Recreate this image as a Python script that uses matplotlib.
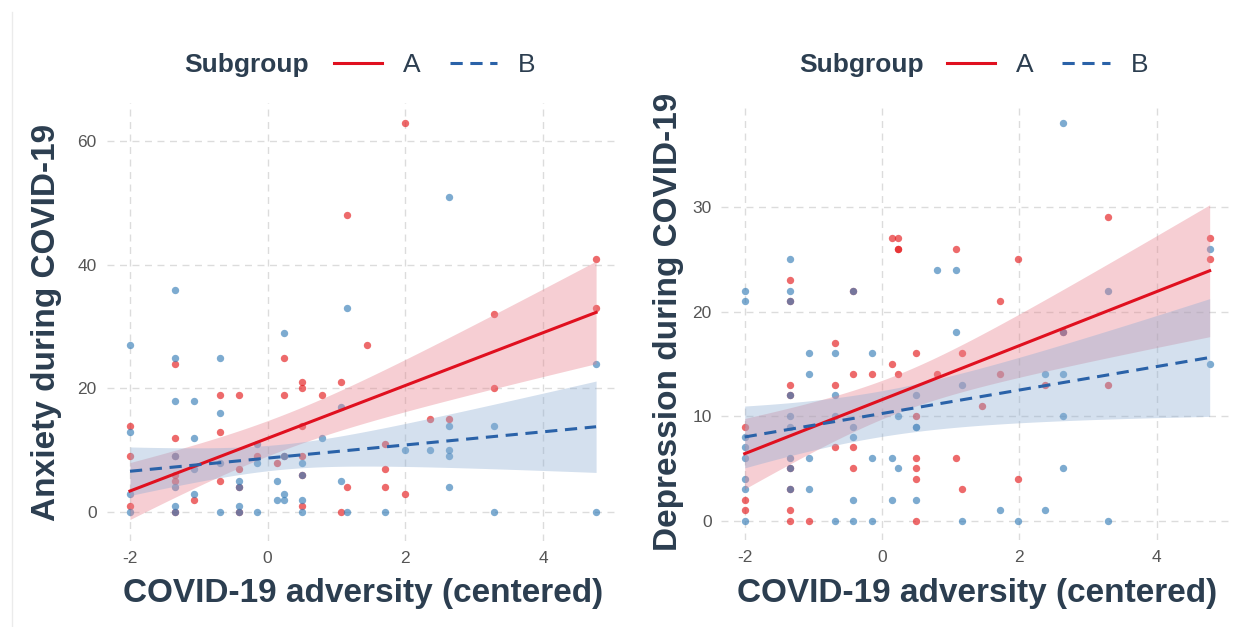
import numpy as np
import matplotlib
matplotlib.use("Agg")
import matplotlib.pyplot as plt
from matplotlib.lines import Line2D

# ---------------- data ----------------
# Left panel: Anxiety during COVID-19
anx_A_x = [-2, -2, -2,
           -1.34, -1.34, -1.34, -1.34, -1.34, -1.34,
           -1.07,
           -0.69, -0.69, -0.69,
           -0.42, -0.42, -0.42, -0.42,
           -0.15,
           0.14,
           0.23, 0.23, 0.23,
           0.50, 0.50, 0.50, 0.50, 0.50, 0.50,
           0.79,
           1.06, 1.06,
           1.15, 1.15,
           1.44,
           1.71, 1.71, 1.71,
           1.99, 1.99,
           2.36,
           2.64,
           3.28, 3.28,
           4.77, 4.77]
anx_A_y = [14, 9, 1,
           24, 12, 9, 6, 5, 0,
           2,
           19, 13, 5,
           19, 7, 4, 0,
           9,
           8,
           25, 19, 9,
           21, 20, 14, 9, 6, 1,
           19,
           21, 0,
           48, 4,
           27,
           11, 7, 4,
           63, 3,
           15,
           15,
           32, 20,
           41, 33]
anx_B_x = [-2, -2, -2, -2,
           -1.34, -1.34, -1.34, -1.34, -1.34, -1.34, -1.34,
           -1.07, -1.07, -1.07, -1.07,
           -0.69, -0.69, -0.69, -0.69,
           -0.42, -0.42, -0.42, -0.42,
           -0.15, -0.15, -0.15,
           0.14, 0.14,
           0.23, 0.23, 0.23, 0.23,
           0.50, 0.50, 0.50, 0.50,
           0.79,
           1.06, 1.06,
           1.15, 1.15,
           1.71,
           1.99,
           2.36,
           2.64, 2.64, 2.64, 2.64, 2.64,
           3.28, 3.28,
           4.77, 4.77]
anx_B_y = [27, 13, 3, 0,
           36, 25, 18, 9, 4, 1, 0,
           18, 12, 7, 3,
           25, 16, 8, 0,
           5, 4, 1, 0,
           11, 8, 0,
           5, 2,
           29, 9, 3, 2,
           8, 6, 2, 0,
           12,
           17, 5,
           33, 0,
           0,
           10,
           10,
           51, 14, 10, 9, 4,
           14, 0,
           24, 0]

# Right panel: Depression during COVID-19
dep_A_x = [-2, -2, -2,
           -1.34, -1.34, -1.34, -1.34, -1.34, -1.34, -1.34, -1.34,
           -1.07,
           -0.69, -0.69, -0.69,
           -0.42, -0.42, -0.42, -0.42,
           -0.15,
           0.15, 0.15,
           0.23, 0.23, 0.23, 0.23,
           0.50, 0.50, 0.50, 0.50, 0.50, 0.50,
           0.80,
           1.07, 1.07,
           1.16, 1.16,
           1.45,
           1.71, 1.71,
           1.98, 1.98,
           2.37,
           2.63,
           3.29, 3.29,
           4.77, 4.77]
dep_A_y = [9, 2, 1,
           23, 21, 13, 12, 5, 3, 1, 0,
           0,
           17, 13, 7,
           22, 14, 7, 5,
           14,
           27, 15,
           27, 26, 26, 14,
           16, 10, 6, 5, 4, 0,
           14,
           26, 6,
           16, 3,
           11,
           21, 14,
           25, 4,
           13,
           18,
           29, 13,
           27, 25]
dep_B_x = [-2, -2, -2, -2, -2, -2, -2, -2,
           -1.34, -1.34, -1.34, -1.34, -1.34, -1.34, -1.34, -1.34, -1.34,
           -1.07, -1.07, -1.07, -1.07,
           -0.69, -0.69, -0.69, -0.69,
           -0.42, -0.42, -0.42, -0.42, -0.42,
           -0.15, -0.15, -0.15,
           0.15, 0.15,
           0.23, 0.23,
           0.50, 0.50, 0.50, 0.50,
           0.80,
           1.07, 1.07,
           1.16, 1.16,
           1.71,
           1.98,
           2.37, 2.37,
           2.63, 2.63, 2.63, 2.63, 2.63,
           3.29, 3.29,
           4.77, 4.77]
dep_B_y = [22, 21, 8, 7, 6, 4, 3, 0,
           25, 22, 21, 12, 10, 9, 6, 5, 3,
           16, 14, 6, 3,
           16, 12, 10, 0,
           22, 9, 8, 2, 0,
           16, 6, 0,
           6, 2,
           10, 5,
           12, 9, 9, 2,
           24,
           24, 18,
           13, 0,
           1,
           0,
           14, 1,
           38, 18, 14, 10, 5,
           22, 0,
           26, 15]

# Fitted regression lines: value at x = -2 and x = 4.77
fit_x_ends = [-2.0, 4.77]
anx_A_fit = [3.4, 32.3]
anx_B_fit = [6.6, 13.8]
dep_A_fit = [6.4, 23.9]
dep_B_fit = [8.0, 15.6]
# Confidence band half-widths read at these x positions
band_x = [-2.0, 0.0, 2.0, 4.77]
anx_A_half = [4.6, 2.9, 4.2, 8.3]
anx_B_half = [3.9, 2.2, 3.4, 7.4]
dep_A_half = [3.4, 1.7, 3.1, 6.3]
dep_B_half = [2.9, 2.4, 3.0, 5.65]

x_ticks = [-2, 0, 2, 4]
x_label = "COVID-19 adversity (centered)"
legend_title = "Subgroup"
group_names = ["A", "B"]

panels = [
    dict(ylabel="Anxiety during COVID-19", yticks=[0, 20, 40, 60], ylim=(-4.7, 66.2),
         A=(anx_A_x, anx_A_y, anx_A_fit, anx_A_half),
         B=(anx_B_x, anx_B_y, anx_B_fit, anx_B_half)),
    dict(ylabel="Depression during COVID-19", yticks=[0, 10, 20, 30], ylim=(-1.9, 39.9),
         A=(dep_A_x, dep_A_y, dep_A_fit, dep_A_half),
         B=(dep_B_x, dep_B_y, dep_B_fit, dep_B_half)),
]

# ---------------- style ----------------
plt.rcParams['font.family'] = ['Liberation Sans', 'DejaVu Sans']
plt.rcParams['axes.unicode_minus'] = False
TXT = "#2C3E50"
TICK = "#555555"
col_pts = {"A": "#E41A1C", "B": "#377EB8"}
col_line = {"A": "#E0101F", "B": "#2A62A8"}
col_band = {"A": "#E8808C", "B": "#8EAED3"}
ls = {"A": "-", "B": (0, (4, 2.5))}

fig = plt.figure(figsize=(12.48, 6.27), dpi=100)
fig.patch.set_facecolor("white")
axes_pos = [[0.0854, 0.137, 0.411, 0.699], [0.578, 0.138, 0.410, 0.697]]
ylabel_pads = [11, 6]

# faint frame line at the left edge of the original image
fig.add_artist(Line2D([0.0095, 0.0095], [0.0, 0.981], transform=fig.transFigure,
                      color="#EBEBEB", linewidth=1.0))

for pos, p, ypad in zip(axes_pos, panels, ylabel_pads):
    ax = fig.add_axes(pos)
    for sp in ax.spines.values():
        sp.set_visible(False)
    ax.set_xlim(-2.34, 5.11)
    ax.set_ylim(*p["ylim"])
    ax.set_xticks(x_ticks)
    ax.set_yticks(p["yticks"])
    ax.tick_params(length=0, labelsize=12.5, labelcolor=TICK, pad=7)
    ax.grid(True, color="#DCDCDC", linestyle=(0, (5, 4)), linewidth=1.0)
    ax.set_axisbelow(True)
    for g in group_names:
        gx, gy, _, _ = p[g]
        ax.scatter(gx, gy, s=28, color=col_pts[g], alpha=0.65, linewidths=0, zorder=2)
    for g in group_names:
        gx, gy, fit_ends, half = p[g]
        xs = np.linspace(min(gx), max(gx), 200)
        slope = (fit_ends[1] - fit_ends[0]) / (fit_x_ends[1] - fit_x_ends[0])
        fit = fit_ends[0] + slope * (xs - fit_x_ends[0])
        q = np.polyfit(band_x, np.square(half), 2)
        hw = np.sqrt(np.clip(np.polyval(q, xs), 0.1, None))
        ax.fill_between(xs, fit - hw, fit + hw, color=col_band[g], alpha=0.38,
                        linewidth=0, zorder=3)
    for g in group_names:
        gx, gy, fit_ends, half = p[g]
        xs = np.linspace(min(gx), max(gx), 200)
        slope = (fit_ends[1] - fit_ends[0]) / (fit_x_ends[1] - fit_x_ends[0])
        fit = fit_ends[0] + slope * (xs - fit_x_ends[0])
        ax.plot(xs, fit, color=col_line[g], linestyle=ls[g], linewidth=2.2, zorder=4)
    ax.set_xlabel(x_label, fontsize=24, fontweight="bold", color=TXT, labelpad=9)
    ax.set_ylabel(p["ylabel"], fontsize=24, fontweight="bold", color=TXT, labelpad=ypad)

# legends
handles = [Line2D([], [], color=col_line[g], linestyle=ls[g], linewidth=2.2) for g in group_names]
for title_x, leg_x in [(0.148, 0.268), (0.640, 0.759)]:
    fig.text(title_x, 0.896, legend_title, fontsize=19, fontweight="bold", color=TXT,
             ha="left", va="center")
    fig.legend(handles, group_names, loc="center left", bbox_to_anchor=(leg_x, 0.896),
               ncol=2, frameon=False, fontsize=19, labelcolor=TXT, handlelength=1.8,
               handletextpad=0.8, columnspacing=1.1, borderpad=0, borderaxespad=0)

fig.savefig("out.png", dpi=100, facecolor="white")
